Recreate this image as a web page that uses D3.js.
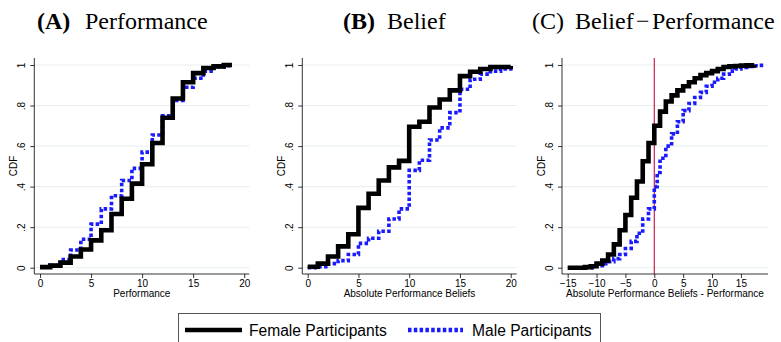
<!DOCTYPE html>
<html>
<head>
<meta charset="utf-8">
<script src="https://cdn.jsdelivr.net/npm/d3@7"></script>
<style>
  body { margin: 0; background: #fff; }
  svg { display: block; }
</style>
</head>
<body>
<script>
var width = 781,
    height = 342;

var sans = "'Liberation Sans', Arial, sans-serif",
    serif = "'Liberation Serif', 'Times New Roman', serif";

// y ticks shared by all panels
var yTicks = [0, 0.2, 0.4, 0.6, 0.8, 1];
var yTickLabels = ["0", ".2", ".4", ".6", ".8", "1"];

// (A) Performance: step starts and CDF levels
var perfX = [0, 1, 2, 3, 4, 5, 6, 7, 8, 9, 10, 11, 12, 13, 14, 15, 16, 17, 18, 18.8];
var perfFemale = [0.003, 0.01, 0.025, 0.055, 0.09, 0.135, 0.185, 0.265, 0.34, 0.415, 0.51, 0.615, 0.74, 0.835, 0.915, 0.96, 0.985, 0.993, 1, 1];
var perfMale = [0.003, 0.012, 0.04, 0.087, 0.14, 0.215, 0.29, 0.355, 0.43, 0.49, 0.57, 0.655, 0.75, 0.825, 0.89, 0.935, 0.97, 0.99, 0.997, 1];

// (B) Absolute performance beliefs
var beliefX = [0, 1, 2, 3, 4, 5, 6, 7, 8, 9, 10, 11, 12, 13, 14, 15, 16, 17, 18, 19, 20];
var beliefFemale = [0.005, 0.02, 0.055, 0.105, 0.165, 0.295, 0.365, 0.43, 0.495, 0.527, 0.695, 0.72, 0.79, 0.83, 0.875, 0.945, 0.967, 0.98, 0.99, 0.99, 0.995];
var beliefMale = [0, 0.005, 0.02, 0.035, 0.065, 0.12, 0.145, 0.18, 0.24, 0.29, 0.48, 0.53, 0.63, 0.69, 0.765, 0.88, 0.93, 0.955, 0.97, 0.98, 0.985];

// (C) Belief - Performance
var diffXF = [-15, -12, -11, -10, -9, -8, -7, -6, -5, -4, -3, -2, -1, 0, 1, 2, 3, 4, 5, 6, 7, 8, 9, 10, 11, 12, 13, 14, 15, 16, 17.3];
var diffFemale = [0, 0.003, 0.007, 0.02, 0.035, 0.065, 0.115, 0.185, 0.26, 0.345, 0.425, 0.525, 0.615, 0.7, 0.77, 0.82, 0.85, 0.875, 0.895, 0.915, 0.935, 0.95, 0.96, 0.97, 0.98, 0.99, 0.993, 0.995, 0.997, 0.998, 1];
var diffXM = [-12, -10, -9, -8, -7, -6, -5, -4, -3, -2, -1, 0, 0.5, 1, 2, 3, 4, 5, 6, 7, 8, 9, 10, 11, 12, 13, 14, 15, 16, 17, 18, 19.2];
var diffMale = [0, 0.01, 0.02, 0.03, 0.045, 0.065, 0.095, 0.13, 0.17, 0.24, 0.29, 0.4, 0.47, 0.54, 0.6, 0.66, 0.72, 0.775, 0.81, 0.84, 0.865, 0.895, 0.915, 0.935, 0.955, 0.97, 0.98, 0.988, 0.993, 0.996, 0.998, 1];

var panels = [
  { title: [["(A)", 37, true], ["Performance", 85, false]],
    xTitle: "Performance", xDomain: [-0.56, 20.5], xRange: [34.3, 249.3],
    xTicks: [0, 5, 10, 15, 20],
    female: { x: perfX, y: perfFemale }, male: { x: perfX, y: perfMale } },
  { title: [["(B)", 343, true], ["Belief", 387, false]],
    xTitle: "Absolute Performance Beliefs", xDomain: [-0.53, 20.59], xRange: [302.3, 516.7],
    xTicks: [0, 5, 10, 15, 20],
    female: { x: beliefX, y: beliefFemale }, male: { x: beliefX, y: beliefMale } },
  { title: [["(C)", 532, false], ["Belief", 575, false], ["\u2212", 636, false], ["Performance", 652, false]],
    xTitle: "Absolute Performance Beliefs - Performance", xDomain: [-15.98, 19.69], xRange: [562, 768],
    xTicks: [-15, -10, -5, 0, 5, 10, 15], refLine: 0,
    female: { x: diffXF, y: diffFemale }, male: { x: diffXM, y: diffMale } }
];

var svg = d3.select("body").append("svg")
    .attr("width", width)
    .attr("height", height);

var y = d3.scaleLinear().domain([0, 1]).range([267.7, 65]);
var plotTop = 58, plotBottom = 274;

panels.forEach(function(p) {
  var x = d3.scaleLinear().domain(p.xDomain).range(p.xRange);
  var g = svg.append("g");

  // title
  p.title.forEach(function(t) {
    g.append("text")
        .attr("x", t[1]).attr("y", 29)
        .style("font-family", serif)
        .style("font-size", "24px")
        .style("font-weight", t[2] ? "bold" : "normal")
        .text(t[0]);
  });

  // gridlines
  g.selectAll("line.grid").data(yTicks).enter().append("line")
      .attr("class", "grid")
      .attr("x1", p.xRange[0]).attr("x2", p.xRange[1])
      .attr("y1", function(d) { return y(d); })
      .attr("y2", function(d) { return y(d); })
      .attr("stroke", "#e6eef0").attr("stroke-width", 1);

  // y axis
  var yAxis = d3.axisLeft(y).tickValues(yTicks)
      .tickFormat(function(d, i) { return yTickLabels[i]; })
      .tickSize(4).tickPadding(3);
  var ya = g.append("g").attr("transform", "translate(" + p.xRange[0] + ",0)").call(yAxis);
  ya.select(".domain").attr("d", "M0," + plotTop + "V" + plotBottom);
  ya.selectAll(".tick text")
      .attr("x", 0).attr("y", 0).attr("dy", 0)
      .attr("transform", "translate(-9.5,0) rotate(-90)")
      .attr("text-anchor", "middle");

  g.append("text")
      .attr("transform", "translate(" + (p.xRange[0] - 17) + "," + ((plotTop + plotBottom) / 2) + ") rotate(-90)")
      .attr("text-anchor", "middle")
      .style("font-family", sans)
      .style("font-size", "10px")
      .text("CDF");

  // x axis
  var xAxis = d3.axisBottom(x).tickValues(p.xTicks).tickFormat(d3.format("d"))
      .tickSize(4).tickPadding(2);
  var xa = g.append("g").attr("transform", "translate(0," + plotBottom + ")").call(xAxis);
  xa.select(".domain").attr("d", "M" + p.xRange[0] + ",0H" + p.xRange[1]);

  g.append("text")
      .attr("x", (p.xRange[0] + p.xRange[1]) / 2)
      .attr("y", 297)
      .attr("text-anchor", "middle")
      .style("font-family", sans)
      .style("font-size", "10px")
      .text(p.xTitle);

  [ya, xa].forEach(function(a) {
    a.attr("font-family", null).attr("font-size", null);
    a.selectAll("text").style("font-size", "10px").style("font-family", sans);
    a.selectAll("line, path").attr("stroke", "#000").attr("stroke-width", 0.8);
  });

  // reference line
  if (p.refLine !== undefined) {
    g.append("line")
        .attr("x1", x(p.refLine)).attr("x2", x(p.refLine))
        .attr("y1", plotTop).attr("y2", plotBottom)
        .attr("stroke", "#c0103a").attr("stroke-width", 1.1);
  }

  var line = d3.line()
      .x(function(d) { return x(d[0]); })
      .y(function(d) { return y(d[1]); })
      .curve(d3.curveStepAfter);

  function pts(s) { return s.x.map(function(v, i) { return [v, s.y[i]]; }); }

  g.append("path").datum(pts(p.male))
      .attr("d", line).attr("fill", "none")
      .attr("stroke", "#1a1aff").attr("stroke-width", 3.6)
      .attr("stroke-dasharray", "3.5,2.3");

  g.append("path").datum(pts(p.female))
      .attr("d", line).attr("fill", "none")
      .attr("stroke", "#000").attr("stroke-width", 4.6)
      .attr("stroke-linejoin", "miter");
});

// legend
var leg = svg.append("g");
leg.append("rect")
    .attr("x", 178.5).attr("y", 313.5).attr("width", 422).attr("height", 40)
    .attr("fill", "#fff").attr("stroke", "#555").attr("stroke-width", 1);
leg.append("line").attr("x1", 185).attr("x2", 242).attr("y1", 330).attr("y2", 330)
    .attr("stroke", "#000").attr("stroke-width", 4.6);
leg.append("text").attr("x", 249).attr("y", 335.5).text("Female Participants");
leg.append("line").attr("x1", 408).attr("x2", 463).attr("y1", 330).attr("y2", 330)
    .attr("stroke", "#1a1aff").attr("stroke-width", 4.6).attr("stroke-dasharray", "3.5,2.3");
leg.append("text").attr("x", 472).attr("y", 335.5).text("Male Participants");
leg.selectAll("text").style("font-family", sans).style("font-size", "15.6px");
</script>
</body>
</html>
